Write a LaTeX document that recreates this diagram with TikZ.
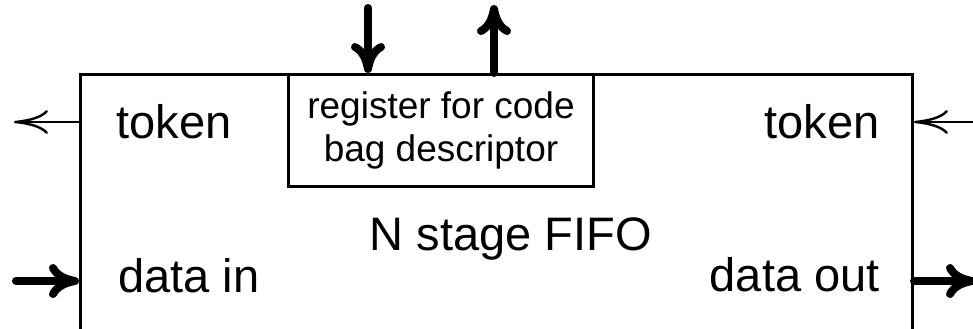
\documentclass[tikz,border=0pt]{standalone}
\usepackage{fontspec}
\setmainfont{Liberation Sans}
\usetikzlibrary{arrows.meta,positioning}

\begin{document}
\begin{tikzpicture}[
      x=0.5pt, y=-0.5pt,
      unit/.style={draw, line width=1.5pt, inner sep=0pt, anchor=north west},
      reg/.style={draw, line width=1.5pt, inner sep=0pt, anchor=north west, minimum width=152.5pt, minimum height=56pt, align=center, font=\fontsize{18.5}{21.5}\selectfont},
      lbl/.style={inner sep=0pt, font=\fontsize{23.5}{28}\selectfont},
      thin/.style={-{To[length=17pt,width=12pt]}, line width=1.2pt},
      fat/.style={-{To[length=15pt,width=17pt]}, line width=4pt, line cap=round}
    ]
      \useasboundingbox (0,0) rectangle (973,328);
      \clip (0,0) rectangle (973,328);

      \node[unit, minimum width=416pt, minimum height=170pt] (fifo) at (79,73) {};
      \node[reg] (bag) at (287,73) {register for code\\bag descriptor};

      \node[lbl, anchor=base west] (tokin) at (116,138) {token};
      \node[lbl, anchor=base west] (din) at (118,292) {data in};
      \node[lbl, anchor=base east] (tokout) at (880,138) {token};
      \node[lbl, anchor=base east] (dout) at (880,291) {data out};
      \node[lbl, anchor=base] (title) at (511,250) {N stage FIFO};

      \coordinate (tl) at (14,122);
      \coordinate (tr) at (975,122);
      \coordinate (dl) at (16,281);
      \coordinate (dr) at (976,281);
      \coordinate (dsc) at (368,8);
      \coordinate (asc) at (494,5);

      \draw[thin] (fifo.west |- tl) -- (tl);
      \draw[thin] (tr) -- (fifo.east |- tr);
      \draw[fat] (dl) -- (fifo.west |- dl);
      \draw[fat] (fifo.east |- dr) -- (dr);
      \draw[fat] (dsc) -- (dsc |- bag.north);
      \draw[fat] (asc |- bag.north) -- (asc);
    \end{tikzpicture}
\end{document}
